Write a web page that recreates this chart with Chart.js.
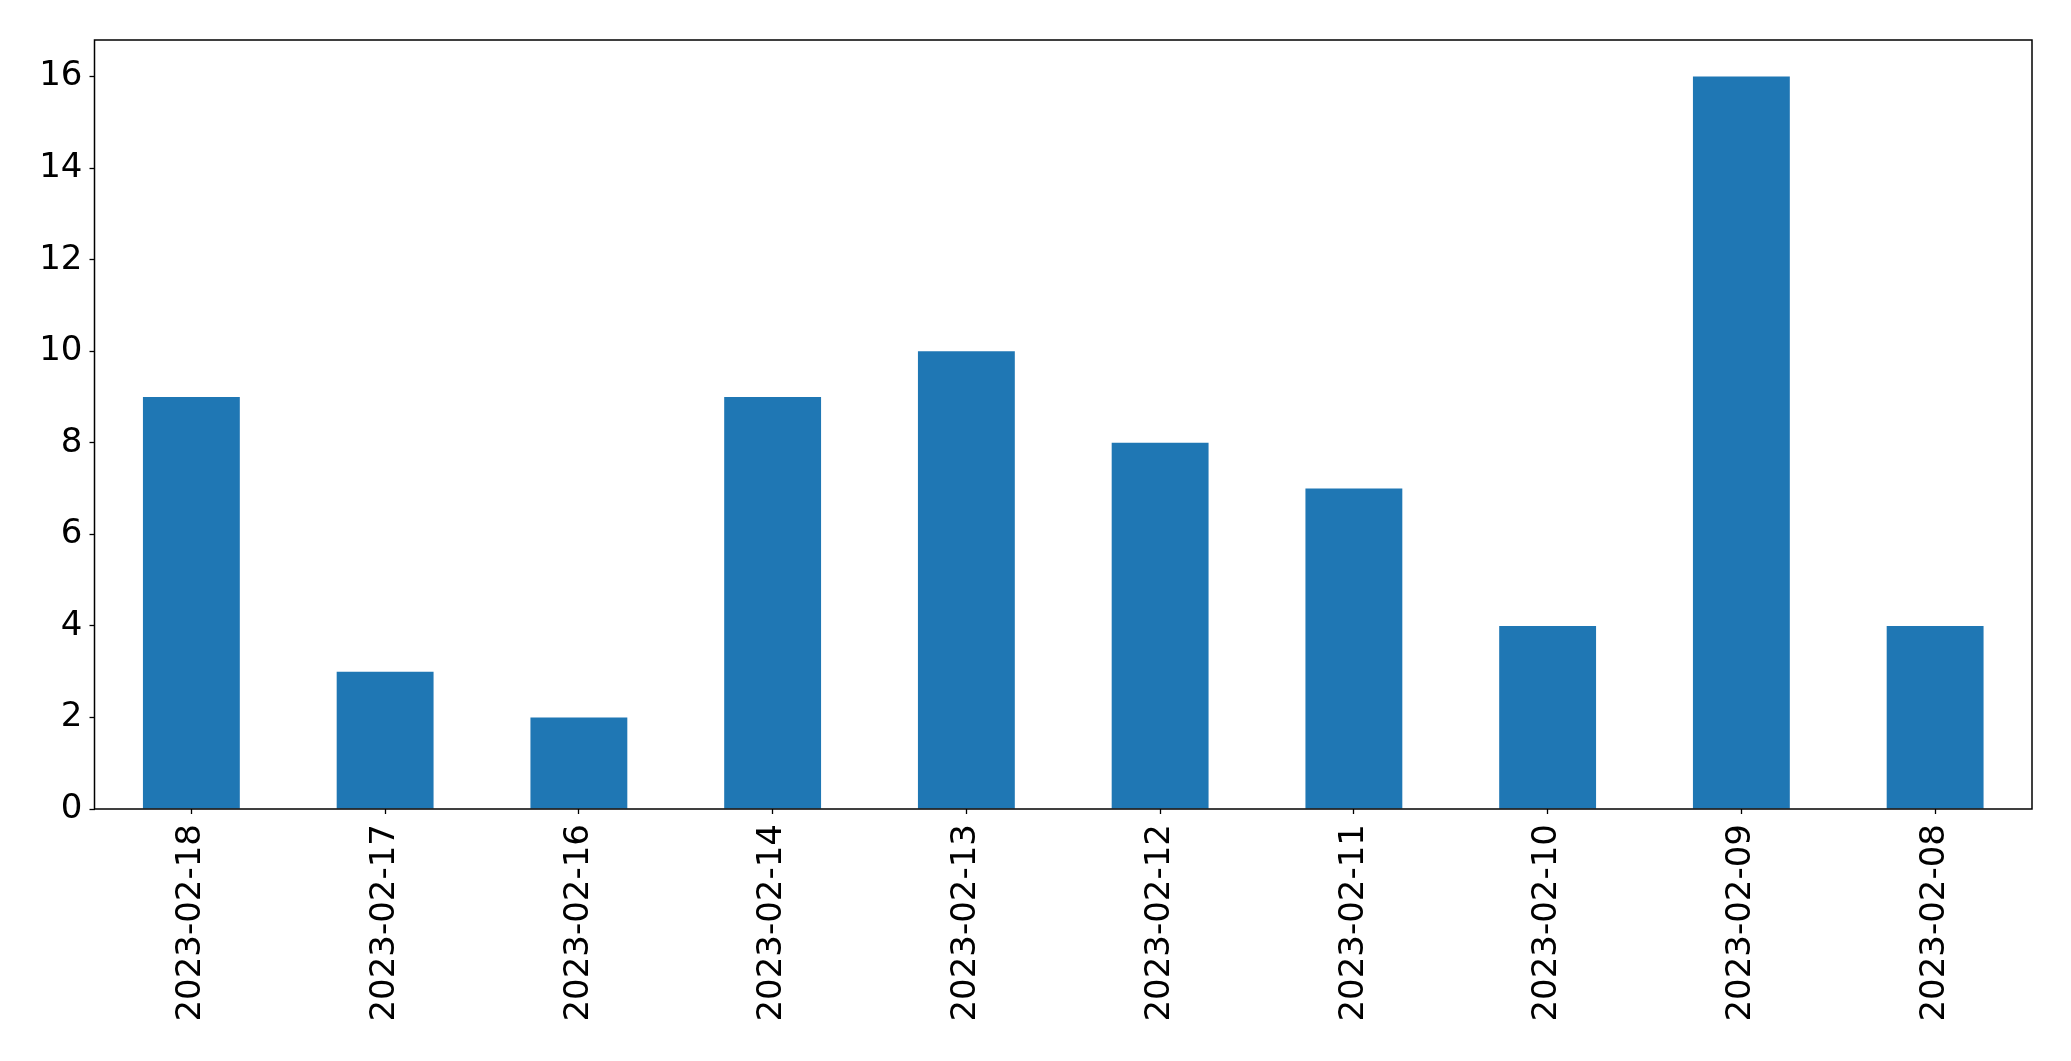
<!DOCTYPE html>
<html>
<head>
<meta charset="utf-8">
<script src="https://cdn.jsdelivr.net/npm/chart.js@4.4.1/dist/chart.umd.min.js"></script>
<style>
  html, body { margin: 0; padding: 0; background: #fff; }
  #wrap { width: 2071px; height: 1061px; }
</style>
</head>
<body>
<div id="wrap"><canvas id="c" width="2071" height="1061"></canvas></div>
<script>
const dates = ['2023-02-18', '2023-02-17', '2023-02-16', '2023-02-14', '2023-02-13',
               '2023-02-12', '2023-02-11', '2023-02-10', '2023-02-09', '2023-02-08'];
const counts = [9, 3, 2, 9, 10, 8, 7, 4, 16, 4];
const yTicks = [0, 2, 4, 6, 8, 10, 12, 14, 16];

const FONT = { family: '"DejaVu Sans", sans-serif', size: 34 };

// matplotlib-like box around the axes
const frameBox = {
  id: 'frameBox',
  afterDraw(chart) {
    const { ctx, chartArea: a } = chart;
    ctx.save();
    ctx.strokeStyle = '#000';
    ctx.lineWidth = 1.5;
    ctx.strokeRect(a.left, a.top, a.right - a.left, a.bottom - a.top);
    ctx.restore();
  },
};

new Chart(document.getElementById('c'), {
  type: 'bar',
  data: {
    labels: dates,
    datasets: [{
      data: counts,
      backgroundColor: '#1f77b4',
      borderWidth: 0,
      barPercentage: 0.5,
      categoryPercentage: 1.0,
    }],
  },
  options: {
    responsive: false,
    animation: false,
    maintainAspectRatio: false,
    layout: { padding: { top: 40, right: 39, left: 0, bottom: 0 } },
    plugins: { legend: { display: false }, tooltip: { enabled: false } },
    scales: {
      x: {
        grid: { display: true, offset: false, drawOnChartArea: false, tickLength: 5, color: '#000', tickWidth: 1.3 },
        border: { display: false },
        ticks: {
          color: '#000', font: FONT, minRotation: 90, maxRotation: 90, padding: 10, autoSkip: false,
        },
        afterFit: s => { s.height = 252; },
      },
      y: {
        min: 0, max: 16.8,
        afterBuildTicks: s => { s.ticks = yTicks.map(v => ({ value: v })); },
        grid: { display: true, drawOnChartArea: false, tickLength: 5, color: '#000', tickWidth: 1.3 },
        border: { display: false },
        ticks: { color: '#000', font: FONT, padding: 7 },
        afterFit: s => { s.width = 94.5; },
      },
    },
  },
  plugins: [frameBox],
});
</script>
</body>
</html>
